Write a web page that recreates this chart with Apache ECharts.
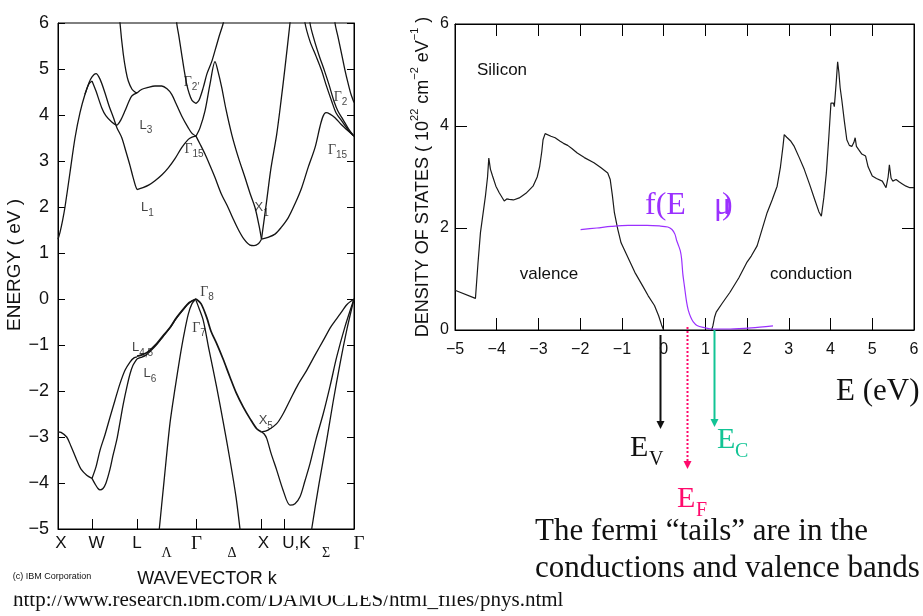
<!DOCTYPE html>
<html>
<head>
<meta charset="utf-8">
<title>Silicon bands and density of states</title>
<script src="https://cdn.jsdelivr.net/npm/echarts@6.0.0/dist/echarts.min.js"></script>
<style>
  html, body { margin: 0; padding: 0; background: #fff; }
  #chart { width: 923px; height: 616px; }
</style>
</head>
<body>
<div id="chart"></div>
<script>
// ---------- left panel: band structure along the k path ----------
var kTickPos = [34, 79, 138, 203.5, 226];
var kLabelPos = [3, 38.5, 79, 108.5, 138.5, 174, 205.5, 238.5, 268, 296];
var kLabelText = ['X', 'W', 'L', 'Λ', 'Γ', 'Δ', 'X', 'U,K', 'Σ', 'Γ'];

// conduction bands, [k, E]
var cbXW = [[0,1.3],[2,1.45],[4.5,1.7],[7,2.0],[12,2.75],[17,3.5],[22,4.05],[27,4.45],[31,4.68],[34,4.74]];
var cbWL3 = [[34,4.74],[38,4.52],[43.7,4.16],[48,3.98],[53.7,3.85],[58.7,3.78],[63,3.9],[67,4.09],[71,4.3],[74,4.42],[79,4.48]];
var cbWL1 = [[27,4.45],[31,4.7],[34,4.83],[38,4.9],[42,4.78],[47,4.48],[51,4.2],[55.3,3.95],[59,3.72],[63.7,3.51],[68,3.2],[72,2.9],[75,2.65],[77.5,2.46],[79,2.38]];
var cbL3top = [[61,6.4],[62,6.0],[65.3,5.32],[68,4.95],[70.3,4.74],[74,4.56],[77,4.5],[79,4.48]];
var cbL3G15 = [[79,4.48],[84,4.56],[90,4.6],[97,4.63],[103.7,4.63],[109,4.57],[113.7,4.45],[118,4.25],[123.7,3.98],[130.3,3.72],[134,3.6],[138,3.54]];
var cbL1G15 = [[79,2.38],[85,2.42],[91,2.48],[97,2.57],[104,2.7],[110.3,2.85],[117,3.05],[123.7,3.29],[130.3,3.47],[134,3.52],[138,3.54]];
var cbG2top = [[117.5,6.4],[118.7,6.0],[121,5.7],[123.7,5.32],[126,5.0],[128.7,4.67],[131,4.48],[134,4.32],[138,4.25]];
var cbG2up = [[138,4.25],[141,4.32],[145.3,4.6],[149,4.9],[153.7,5.16],[157,5.4],[161,5.7],[165.3,6.0],[167,6.2]];
var cbG15X1 = [[138,3.54],[142,3.72],[147,4.09],[152,4.67],[157,5.16],[160,4.95],[163.7,4.6],[168,4.12],[173.7,3.58],[180,3.1],[187,2.64],[192,2.3],[197,1.99],[201,1.6],[203.5,1.3]];
var cbDelta1 = [[138,3.54],[142,3.37],[147,3.15],[152,2.9],[157,2.64],[163,2.3],[170.3,1.98],[175,1.75],[180.3,1.51],[186,1.3],[192,1.17],[196,1.16],[200.3,1.2],[203.5,1.3]];
var cbX1up = [[203.5,1.3],[208.7,2.14],[213,2.85],[218.7,3.58],[223,4.3],[227,5.03],[232,6.0],[233.5,6.3]];
var cbX1G15 = [[203.5,1.3],[210,1.34],[217,1.41],[223,1.55],[230.3,1.77],[237,2.07],[243.7,2.42],[250,2.85],[257,3.29],[262,3.75],[265,3.97],[268,4.05],[272,4.02],[277,3.94],[283,3.8],[290.3,3.65],[296,3.54]];
var cbKtop1 = [[246,6.3],[247,6.0],[252,5.6],[258,5.28],[263.7,4.96],[268,4.66],[273.7,4.3],[278,4.05],[283.7,3.87],[290,3.68],[296,3.54]];
var cbKtop2 = [[251.5,6.3],[252,6.0],[256,5.65],[261,5.3],[266.5,4.96],[271,4.66],[276,4.3],[280,4.08],[285,3.9],[290.5,3.7],[296,3.54]];
var cbG2right = [[276.5,6.3],[277,6.0],[280,5.7],[283.7,5.32],[287,4.97],[290.3,4.67],[293,4.45],[296,4.27]];

// valence bands, [k, E]
var vbXW = [[0,-2.89],[3,-2.9],[8.7,-3.0],[13,-3.2],[18.7,-3.5],[23,-3.7],[28.7,-3.83],[34,-3.9]];
var vbWL1 = [[34,-3.9],[38,-3.65],[42,-3.29],[47,-2.95],[52,-2.57],[57,-2.2],[62,-1.84],[67,-1.55],[72,-1.37],[76,-1.28],[79,-1.26]];
var vbWL2 = [[34,-3.9],[37,-4.02],[40,-4.12],[42,-4.15],[45,-4.12],[48,-4.0],[52,-3.7],[55,-3.4],[58.7,-3.07],[62,-2.68],[65.3,-2.28],[69,-1.9],[72,-1.63],[75,-1.44],[79,-1.3]];
var vbLG1 = [[79,-1.24],[83,-1.22],[88.7,-1.17],[93,-1.09],[98.7,-0.97],[105,-0.8],[112,-0.62],[118,-0.42],[125.3,-0.22],[131,-0.08],[138,0]];
var vbLG2 = [[79,-1.3],[83,-1.27],[88,-1.22],[93,-1.12],[98.7,-0.99],[105,-0.82],[112,-0.63],[118,-0.43],[125.3,-0.23],[131,-0.09],[138,0]];
var vbLambda = [[99.5,-5.4],[101.3,-5.0],[106,-3.97],[112,-2.7],[117,-1.95],[122,-1.26],[126,-0.77],[130.3,-0.33],[134,-0.1],[138,0]];
var vbGXheavy = [[138,0],[143,-0.1],[148.7,-0.4],[153,-0.7],[158.7,-0.97],[165,-1.3],[172,-1.7],[178,-2.03],[185.3,-2.35],[192,-2.6],[198.7,-2.82],[203.5,-2.89]];
var vbGXsplit = [[138,-0.03],[141,-0.2],[145.3,-0.47],[151,-1.1],[158.7,-1.92],[165,-2.65],[172,-3.5],[178,-4.3],[182,-5.0],[183.5,-5.3]];
var vbXGup = [[203.5,-2.89],[210,-2.85],[218.7,-2.71],[225,-2.5],[232,-2.2],[240,-1.86],[248.7,-1.55],[257,-1.22],[265.3,-0.9],[273,-0.6],[282,-0.33],[289,-0.12],[296,0]];
var vbXGlow = [[203.5,-2.89],[206,-2.93],[208.7,-3.03],[213,-3.35],[218.7,-3.72],[225,-4.15],[232,-4.48],[237,-4.45],[242,-4.3],[247,-3.95],[252,-3.58],[258,-3.05],[265.3,-2.49],[272,-1.9],[278.7,-1.26],[287,-0.6],[296,0]];
var vbSigma = [[252,-5.3],[253.7,-5.0],[261,-4.02],[268.7,-3.07],[275,-2.25],[282,-1.41],[289,-0.65],[296,0]];

// symmetry point labels: anchor [k, E], main letter, subscript
var bandLabelAt = [[133.5,4.72],[88,3.78],[136,3.27],[282.5,4.39],[279.5,3.24],[89.5,1.99],[203.7,1.99],[149,0.15],[141,-0.62],[84.5,-1.05],[92,-1.62],[207.8,-2.64]];
var bandLabelMain = ['Γ','L','Γ','Γ','Γ','L','X','Γ','Γ','L','L','X'];
var bandLabelSub = ['2′','3','15','2','15','1','1','8','7','4,5','6','5'];

// ---------- right panel: density of states of silicon ----------
var dosValence = [[-5,0.78],[-4.51,0.62],[-4.45,1.3],[-4.39,1.91],[-4.27,2.63],[-4.22,3.0],[-4.19,3.37],[-4.15,3.15],[-4.1,3.02],[-4.02,2.82],[-3.94,2.69],[-3.82,2.53],[-3.76,2.57],[-3.7,2.56],[-3.6,2.55],[-3.46,2.59],[-3.3,2.68],[-3.13,2.82],[-3.03,3.0],[-2.97,3.21],[-2.92,3.5],[-2.89,3.73],[-2.84,3.85],[-2.8,3.88],[-2.7,3.8],[-2.6,3.77],[-2.48,3.7],[-2.4,3.66],[-2.3,3.62],[-2.2,3.56],[-2.07,3.47],[-1.9,3.38],[-1.67,3.28],[-1.5,3.18],[-1.34,3.08],[-1.28,2.95],[-1.23,2.65],[-1.18,2.3],[-1.1,1.98],[-1.02,1.71],[-0.9,1.5],[-0.69,1.13],[-0.5,0.86],[-0.37,0.67],[-0.22,0.48],[-0.12,0.28],[-0.05,0.1],[0,0]];
var dosConduction = [[1.15,0.0],[1.18,0.08],[1.22,0.25],[1.26,0.35],[1.4,0.52],[1.59,0.74],[1.8,1.02],[1.99,1.32],[2.1,1.45],[2.24,1.65],[2.35,1.95],[2.48,2.3],[2.6,2.55],[2.72,2.82],[2.8,3.2],[2.86,3.6],[2.89,3.83],[2.95,3.78],[3.05,3.7],[3.13,3.6],[3.25,3.38],[3.37,3.15],[3.5,2.85],[3.62,2.56],[3.72,2.32],[3.78,2.23],[3.84,2.6],[3.9,3.08],[3.96,3.8],[4.01,4.45],[4.07,4.45],[4.09,4.38],[4.11,4.58],[4.14,4.9],[4.17,5.26],[4.2,5.05],[4.23,4.75],[4.27,4.51],[4.33,4.1],[4.39,3.73],[4.45,3.62],[4.51,3.6],[4.56,3.68],[4.59,3.77],[4.62,3.6],[4.67,3.54],[4.75,3.45],[4.84,3.41],[4.9,3.2],[5.0,3.02],[5.1,2.97],[5.24,2.92],[5.33,2.79],[5.38,3.0],[5.41,3.24],[5.45,2.98],[5.49,2.92],[5.57,2.95],[5.65,2.9],[5.73,2.86],[5.81,2.82],[5.9,2.79],[6.0,2.79]];
// Fermi function sketch (same axes, arbitrary height)
var fermiCurve = [[-1.99,1.97],[-1.6,2.0],[-1.26,2.03],[-0.85,2.05],[-0.4,2.05],[-0.1,2.04],[0.1,2.02],[0.2,1.97],[0.27,1.88],[0.31,1.76],[0.36,1.65],[0.4,1.55],[0.43,1.4],[0.46,1.1],[0.5,0.85],[0.55,0.55],[0.59,0.39],[0.65,0.25],[0.71,0.16],[0.8,0.09],[0.95,0.05],[1.15,0.02],[1.6,0.02],[2.1,0.04],[2.62,0.08]];
// band edge / Fermi level markers (eV)
var levelE = [-0.08, 0.57, 1.21];
var levelName = ['V', 'F', 'C'];

var PURPLE = '#9b30ff', PINK = '#ff0a6c', GREEN = '#12c495';
var SANS = 'Liberation Sans', SERIF = 'Liberation Serif';

function minus(v) { return v < 0 ? '\u2212' + (-v) : '' + v; }

var chart = echarts.init(document.getElementById('chart'));

var bands = [cbXW, cbWL3, cbWL1, cbL3top, cbL3G15, cbL1G15, cbG2top, cbG2up, cbG15X1, cbDelta1,
  cbX1up, cbX1G15, cbKtop1, cbKtop2, cbG2right,
  vbXW, vbWL1, vbWL2, vbLG1, vbLG2, vbLambda, vbGXheavy, vbGXsplit, vbXGup, vbXGlow, vbSigma];

var series = bands.map(function (d) {
  return {
    type: 'line', xAxisIndex: 0, yAxisIndex: 0, data: d,
    showSymbol: false, smooth: 0.3, silent: true,
    lineStyle: { color: '#141414', width: (d === vbLG1 || d === vbGXheavy) ? 1.7 : 1.3 }
  };
});

series.push({
  type: 'scatter', xAxisIndex: 0, yAxisIndex: 0, silent: true,
  symbolSize: 1, itemStyle: { color: 'transparent' },
  data: bandLabelAt.map(function (p, i) { return [p[0], p[1], i]; }),
  label: {
    show: true, position: 'inside', color: '#111',
    formatter: function (p) {
      var i = p.data[2];
      var m = bandLabelMain[i] === 'Γ' ? 'g' : 'm';
      return '{' + m + '|' + bandLabelMain[i] + '}{s|' + bandLabelSub[i] + '}';
    },
    rich: {
      m: { fontFamily: SANS, fontSize: 13, lineHeight: 13, verticalAlign: 'top', color: '#111' },
      g: { fontFamily: SERIF, fontSize: 14, lineHeight: 13, verticalAlign: 'top', color: '#111' },
      s: { fontFamily: SANS, fontSize: 10, lineHeight: 10, verticalAlign: 'top', padding: [7, 0, 0, 0], color: '#111' }
    }
  }
});

series.push({
  type: 'line', xAxisIndex: 1, yAxisIndex: 2, data: dosValence,
  showSymbol: false, silent: true, lineStyle: { color: '#1a1a1a', width: 1.2 }
});
series.push({
  type: 'line', xAxisIndex: 1, yAxisIndex: 2, data: dosConduction,
  showSymbol: false, silent: true, lineStyle: { color: '#1a1a1a', width: 1.2 }
});
series.push({
  type: 'line', xAxisIndex: 1, yAxisIndex: 2, data: fermiCurve,
  showSymbol: false, silent: true, smooth: 0.3, lineStyle: { color: PURPLE, width: 1.2 }
});

var tickInside = function (len, vals) {
  var t = { show: true, inside: true, length: len, lineStyle: { color: '#000', width: 1 } };
  if (vals) t.customValues = vals;
  return t;
};
var edgeLine = { show: true, onZero: false, lineStyle: { color: '#000' } };

chart.setOption({
  animation: false,
  backgroundColor: '#fff',
  grid: [
    { left: 58, top: 23, width: 296, height: 506, show: true, borderColor: '#000', borderWidth: 1, containLabel: false },
    { left: 455, top: 24, width: 459, height: 306, show: true, borderColor: '#000', borderWidth: 1, containLabel: false }
  ],
  xAxis: [
    {
      gridIndex: 0, type: 'value', min: 0, max: 296, position: 'bottom',
      axisLine: edgeLine,
      splitLine: { show: false },
      axisTick: tickInside(10, kTickPos),
      axisLabel: {
        customValues: kLabelPos, margin: 6,
        formatter: function (v) {
          var i = kLabelPos.indexOf(v);
          if (i < 0) return '';
          var t = kLabelText[i];
          if (t === 'Λ' || t === 'Δ' || t === 'Σ') return '{g|' + t + '}';
          if (t === 'Γ') return i === kLabelText.length - 1 ? '{gl|Γ}' : '{gm|Γ}';
          return '{n|' + t + '}';
        },
        rich: {
          n: { fontFamily: SANS, fontSize: 17, color: '#111' },
          gm: { fontFamily: SERIF, fontSize: 19, color: '#111' },
          gl: { fontFamily: SERIF, fontSize: 19, color: '#111', padding: [0, 0, 0, 10] },
          g: { fontFamily: SERIF, fontSize: 14, color: '#111', padding: [11, 0, 0, 0] }
        }
      }
    },
    {
      gridIndex: 1, type: 'value', min: -5, max: 6, interval: 1, position: 'bottom',
      axisLine: edgeLine,
      splitLine: { show: false },
      axisTick: tickInside(12),
      axisLabel: { margin: 12, fontFamily: SANS, fontSize: 16, color: '#111', formatter: minus }
    },
    {
      gridIndex: 1, type: 'value', min: -5, max: 6, interval: 1, position: 'top',
      axisLine: edgeLine,
      splitLine: { show: false },
      axisTick: tickInside(12),
      axisLabel: { show: false }
    }
  ],
  yAxis: [
    {
      gridIndex: 0, type: 'value', min: -5, max: 6, interval: 1, position: 'left',
      axisLine: edgeLine,
      splitLine: { show: false },
      axisTick: tickInside(7),
      axisLabel: { margin: 9, fontFamily: SANS, fontSize: 18, color: '#111', formatter: minus }
    },
    {
      gridIndex: 0, type: 'value', min: -5, max: 6, interval: 1, position: 'right',
      axisLine: edgeLine,
      splitLine: { show: false },
      axisTick: tickInside(7),
      axisLabel: { show: false }
    },
    {
      gridIndex: 1, type: 'value', min: 0, max: 6, interval: 2, position: 'left',
      axisLine: edgeLine,
      splitLine: { show: false },
      axisTick: tickInside(12),
      axisLabel: { margin: 6, fontFamily: SANS, fontSize: 16, color: '#111' }
    },
    {
      gridIndex: 1, type: 'value', min: 0, max: 6, interval: 2, position: 'right',
      axisLine: edgeLine,
      splitLine: { show: false },
      axisTick: tickInside(12),
      axisLabel: { show: false }
    }
  ],
  series: series
});

// ---------- annotations ----------
function txt(x, y, s, font, color, align, extra) {
  var o = {
    type: 'text', x: x, y: y, z: 100, silent: true,
    style: { text: s, font: font, fill: color || '#111', align: align || 'left', verticalAlign: 'middle' }
  };
  if (extra) for (var k in extra) o[k] = extra[k];
  return o;
}

var g = [];
g.push(txt(15, 265, 'ENERGY ( eV )', '19px "' + SANS + '"', '#111', 'center', { rotation: Math.PI / 2 }));
g.push({
  type: 'text', x: 418, y: 177, rotation: Math.PI / 2, z: 100, silent: true,
  style: {
    text: '{n|DENSITY OF STATES ( 10}{p|22}{n| cm}{p|\u22122}{n| eV}{p|\u22121}{n| )}',
    align: 'center', verticalAlign: 'middle', fill: '#111',
    rich: {
      n: { fontFamily: SANS, fontSize: 18, lineHeight: 18, verticalAlign: 'top', padding: [5, 0, 0, 0], fill: '#111' },
      p: { fontFamily: SANS, fontSize: 11, lineHeight: 11, verticalAlign: 'top', fill: '#111' }
    }
  }
});
g.push(txt(207, 579, 'WAVEVECTOR k', '18px "' + SANS + '"', '#111', 'center'));
g.push(txt(52, 577, '(c) IBM Corporation', '9px "' + SANS + '"', '#111', 'center'));
g.push(txt(13, 600, 'http://www.research.ibm.com/DAMOCLES/html_files/phys.html', '21px "' + SERIF + '"', '#111', 'left'));
g.push({ type: 'rect', z: 101, silent: true, shape: { x: 0, y: 588, width: 530, height: 7.5 }, style: { fill: '#fff' } });

g.push(txt(502, 70, 'Silicon', '17px "' + SANS + '"', '#111', 'center'));
g.push(txt(549, 274, 'valence', '17px "' + SANS + '"', '#111', 'center'));
g.push(txt(811, 274, 'conduction', '17px "' + SANS + '"', '#111', 'center'));
g.push(txt(645, 206, 'f(E', '32px "' + SERIF + '"', PURPLE, 'left'));
g.push(txt(714, 206, 'μ', '32px "' + SERIF + '"', PURPLE, 'left'));
g.push(txt(722, 206, ')', '32px "' + SERIF + '"', PURPLE, 'left'));

// vertical arrows from the energy axis at E_V, E_F, E_C
var arrowTop = [335, 327, 330];
var arrowEnd = [429, 469, 427];
var arrowColor = ['#111', PINK, GREEN];
for (var i = 0; i < levelE.length; i++) {
  var px = chart.convertToPixel({ xAxisIndex: 1, yAxisIndex: 2 }, [levelE[i], 0]);
  var x = Math.round(px[0]) + 0.5;
  g.push({
    type: 'line', z: 90, silent: true,
    shape: { x1: x, y1: arrowTop[i], x2: x, y2: arrowEnd[i] - 7 },
    style: { stroke: arrowColor[i], lineWidth: 2, lineDash: i === 1 ? [2, 2] : null }
  });
  g.push({
    type: 'polygon', z: 90, silent: true,
    shape: { points: [[x - 4, arrowEnd[i] - 8], [x + 4, arrowEnd[i] - 8], [x, arrowEnd[i]]] },
    style: { fill: arrowColor[i] }
  });
}
// E_V, E_C, E_F labels
g.push(txt(630, 448, 'E', '30px "' + SERIF + '"', '#111', 'left'));
g.push(txt(649, 460, 'V', '20px "' + SERIF + '"', '#111', 'left'));
g.push(txt(717, 440, 'E', '30px "' + SERIF + '"', GREEN, 'left'));
g.push(txt(735, 452, 'C', '20px "' + SERIF + '"', GREEN, 'left'));
g.push(txt(677, 499, 'E', '30px "' + SERIF + '"', PINK, 'left'));
g.push(txt(696, 511, 'F', '20px "' + SERIF + '"', PINK, 'left'));

g.push(txt(836, 392, 'E (eV)', '31px "' + SERIF + '"', '#111', 'left'));
g.push(txt(535, 532, 'The fermi \u201ctails\u201d are in the', '31px "' + SERIF + '"', '#111', 'left'));
g.push(txt(535, 569, 'conductions and valence bands', '31px "' + SERIF + '"', '#111', 'left'));

chart.setOption({ graphic: g });
</script>
</body>
</html>
